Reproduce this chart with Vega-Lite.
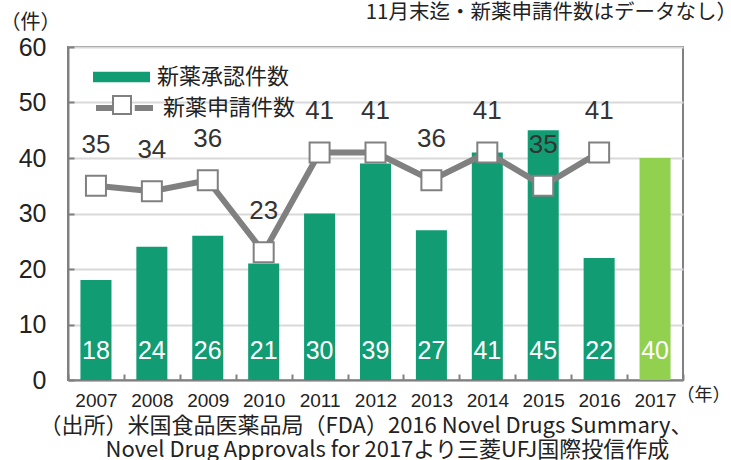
{
  "$schema": "https://vega.github.io/schema/vega-lite/v6.json",
  "width": 615,
  "height": 333,
  "autosize": {"type": "none"},
  "padding": {"left": 68, "top": 47, "right": 48, "bottom": 80},
  "background": "white",
  "title": {
    "text": "11月末迄・新薬申請件数はデータなし）",
    "anchor": "end",
    "frame": "group",
    "dx": 54,
    "offset": -11,
    "font": "Noto Sans CJK JP",
    "fontSize": 20.5,
    "fontWeight": "normal",
    "color": "#222222"
  },
  "data": {
    "values": [
      {"year": "2007", "approved": 18, "applied": 35},
      {"year": "2008", "approved": 24, "applied": 34},
      {"year": "2009", "approved": 26, "applied": 36},
      {"year": "2010", "approved": 21, "applied": 23},
      {"year": "2011", "approved": 30, "applied": 41},
      {"year": "2012", "approved": 39, "applied": 41},
      {"year": "2013", "approved": 27, "applied": 36},
      {"year": "2014", "approved": 41, "applied": 41},
      {"year": "2015", "approved": 45, "applied": 35},
      {"year": "2016", "approved": 22, "applied": 41},
      {"year": "2017", "approved": 40, "applied": null}
    ]
  },
  "resolve": {"axis": {"x": "independent"}},
  "layer": [
    {
      "mark": {"type": "bar", "width": {"band": 0.555}},
      "encoding": {
        "x": {
          "field": "year", "type": "ordinal",
          "scale": {"paddingInner": 0, "paddingOuter": 0},
          "axis": {
            "orient": "bottom",
            "labelAngle": 0,
            "labelFont": "Liberation Sans",
            "labelFontSize": 19,
            "labelColor": "#222222",
            "labelPadding": 17,
            "domainColor": "#808080",
            "domainWidth": 2,
            "ticks": true,
            "tickBand": "extent",
            "tickSize": -6,
            "tickColor": "#808080",
            "tickWidth": 2,
            "grid": false,
            "title": ["（出所）米国食品医薬品局（FDA）2016 Novel Drugs Summary、", "\u200b\u3000\u3000\u3000Novel Drug Approvals for 2017より三菱UFJ国際投信作成"],
            "titleFont": "Noto Sans CJK JP",
            "titleFontSize": 22,
            "titleFontWeight": "normal",
            "titleColor": "#222222",
            "titleAnchor": "start",
            "titleAlign": "left",
            "titleBaseline": "top",
            "titleLineHeight": 24,
            "titleX": -29,
            "titleY": 35
          }
        },
        "y": {
          "field": "approved", "type": "quantitative",
          "scale": {"domain": [0, 60]},
          "axis": {
            "values": [0, 10, 20, 30, 40, 50, 60],
            "labelFont": "Liberation Sans",
            "labelFontSize": 25,
            "labelColor": "#222222",
            "labelPadding": 28,
            "domainColor": "#808080",
            "domainWidth": 2,
            "tickSize": -6,
            "tickColor": "#808080",
            "tickWidth": 2,
            "grid": true,
            "gridColor": "#d9d9d9",
            "gridWidth": 2,
            "title": "（件）",
            "titleFont": "Noto Sans CJK JP",
            "titleFontSize": 20,
            "titleFontWeight": "normal",
            "titleColor": "#222222",
            "titleAngle": 0,
            "titleAlign": "center",
            "titleBaseline": "middle",
            "titleX": -38,
            "titleY": -25
          }
        },
        "fill": {
          "condition": {"test": "datum.year == '2017'", "value": "#92D050"},
          "datum": "新薬承認件数",
          "scale": {"range": ["#129C74"]},
          "legend": {
            "orient": "none", "legendX": 25, "legendY": 1.5, "padding": 0,
            "title": null,
            "symbolType": "M-1,-0.18H1V0.18H-1Z",
            "symbolSize": 3249,
            "symbolStrokeWidth": 0,
            "labelFont": "Noto Sans CJK JP",
            "labelFontSize": 22,
            "labelColor": "#222222",
            "labelOffset": 7
          }
        }
      }
    },
    {
      "transform": [{"filter": "datum.applied != null"}],
      "mark": {"type": "line", "strokeWidth": 6},
      "encoding": {
        "x": {"field": "year", "type": "ordinal", "axis": null},
        "y": {"field": "applied", "type": "quantitative"},
        "stroke": {
          "datum": "新薬申請件数",
          "scale": {"range": ["#808080"]},
          "legend": {
            "orient": "none", "legendX": 25, "legendY": 29.5, "padding": 0,
            "title": null,
            "symbolType": "M-1,0H-0.36M0.36,0H1",
            "symbolSize": 3249,
            "symbolStrokeWidth": 6,
            "labelFont": "Noto Sans CJK JP",
            "labelFontSize": 22,
            "labelColor": "#222222",
            "labelOffset": 7
          }
        }
      }
    },
    {
      "transform": [{"filter": "datum.applied != null"}],
      "mark": {"type": "point", "shape": "square", "filled": false, "fill": "white", "strokeWidth": 2, "size": 400, "opacity": 1},
      "encoding": {
        "x": {"field": "year", "type": "ordinal", "axis": null},
        "y": {"field": "applied", "type": "quantitative"},
        "color": {
          "datum": "申請マーカー",
          "scale": {"range": ["#808080"]},
          "legend": {
            "orient": "none", "legendX": 44, "legendY": 48, "padding": 0,
            "title": null,
            "symbolType": "square",
            "symbolSize": 324,
            "symbolFillColor": "white",
            "symbolStrokeWidth": 2,
            "labelExpr": "''",
            "labelFontSize": 1
          }
        }
      }
    },
    {
      "transform": [{"filter": "datum.applied != null"}],
      "mark": {"type": "text", "dy": -41, "baseline": "middle", "align": "center", "font": "Liberation Sans", "fontSize": 26, "color": "#333333"},
      "encoding": {
        "x": {"field": "year", "type": "ordinal", "axis": null},
        "y": {"field": "applied", "type": "quantitative"},
        "text": {"field": "applied", "type": "quantitative"}
      }
    },
    {
      "mark": {"type": "text", "dy": -29, "baseline": "middle", "align": "center", "font": "Liberation Sans", "fontSize": 25, "color": "white"},
      "encoding": {
        "x": {
          "field": "year", "type": "ordinal",
          "axis": {
            "orient": "top",
            "labels": false,
            "ticks": false,
            "domain": false,
            "grid": false,
            "title": "（年）",
            "titleFont": "Noto Sans CJK JP",
            "titleFontSize": 18,
            "titleFontWeight": "normal",
            "titleColor": "#222222",
            "titleAlign": "center",
            "titleBaseline": "middle",
            "titleX": 635,
            "titleY": 348
          }
        },
        "y": {"datum": 0, "type": "quantitative"},
        "text": {"field": "approved", "type": "quantitative"}
      }
    }
  ],
  "config": {
    "view": {"stroke": "#808080", "strokeWidth": 2}
  }
}
